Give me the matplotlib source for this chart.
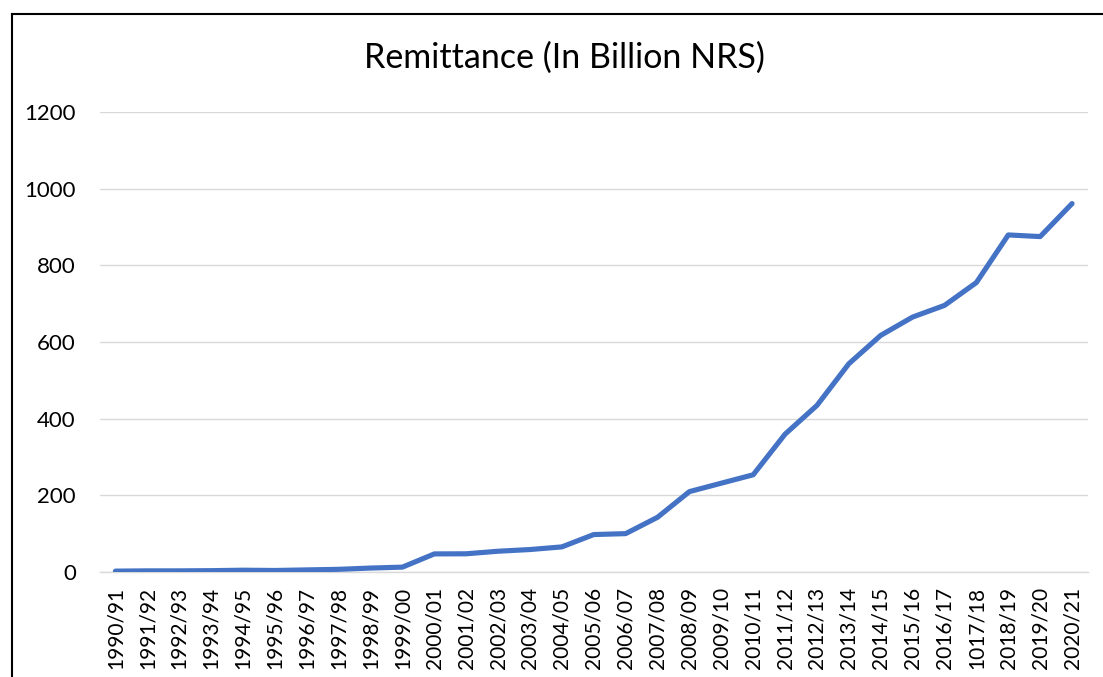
import matplotlib
matplotlib.use("Agg")
import matplotlib.pyplot as plt
from matplotlib.lines import Line2D

plt.rcParams['font.family'] = ['Lato', 'DejaVu Sans']

years = ["1990/91", "1991/92", "1992/93", "1993/94", "1994/95", "1995/96", "1996/97",
         "1997/98", "1998/99", "1999/00", "2000/01", "2001/02", "2002/03", "2003/04",
         "2004/05", "2005/06", "2006/07", "2007/08", "2008/09", "2009/10", "2010/11",
         "2011/12", "2012/13", "2013/14", "2014/15", "2015/16", "2016/17", "1017/18",
         "2018/19", "2019/20", "2020/21"]
remittance = [2.3, 3.0, 3.0, 3.5, 4.7, 4.0, 5.5, 7.0, 10.3, 12.7, 47.2, 47.5, 54.2, 58.6,
              65.5, 97.7, 100.1, 142.7, 209.7, 231.7, 253.6, 359.6, 434.6, 543.3, 617.3,
              665.1, 695.5, 755.1, 879.3, 875.0, 961.1]
yticks = [0, 200, 400, 600, 800, 1000, 1200]

W, H = 1103, 677
fig = plt.figure(figsize=(W / 100, H / 100), dpi=100)
ax = fig.add_axes([99.5 / W, 1 - 572 / H, (1088 - 99.5) / W, (572 - 112) / H])

x = list(range(len(years)))
ax.plot(x, remittance, color="#4472C4", linewidth=3.7,
        solid_capstyle="round", solid_joinstyle="round", zorder=3)

ax.set_xlim(-0.5, len(years) - 0.5)
ax.set_ylim(0, 1200)
ax.set_yticks(yticks)
ax.set_yticklabels([str(v) for v in yticks])
ax.set_xticks(x)
ax.set_xticklabels(years, rotation=90)
ax.tick_params(axis="both", length=0, labelcolor="black")
ax.tick_params(axis="y", pad=17, labelsize=16)
ax.tick_params(axis="x", pad=11, labelsize=15)
ax.grid(axis="y", color="#D9D9D9", linewidth=1.0, zorder=0)
ax.set_axisbelow(True)
for s in ["top", "right", "left"]:
    ax.spines[s].set_visible(False)
ax.spines["bottom"].set_color("#D9D9D9")
ax.spines["bottom"].set_linewidth(1.0)

fig.text(564 / W, 1 - 58 / H, "Remittance (In Billion NRS)", ha="center", va="center",
         fontsize=24.5, color="black")

# outer chart border (left and top visible)
fig.add_artist(Line2D([11.5 / W, 11.5 / W], [0, 1 - 13.5 / H], transform=fig.transFigure,
                      color="black", linewidth=1.5))
fig.add_artist(Line2D([11.5 / W, 1102 / W], [1 - 13.5 / H, 1 - 13.5 / H], transform=fig.transFigure,
                      color="black", linewidth=1.5))

fig.savefig("out.png", dpi=100)
